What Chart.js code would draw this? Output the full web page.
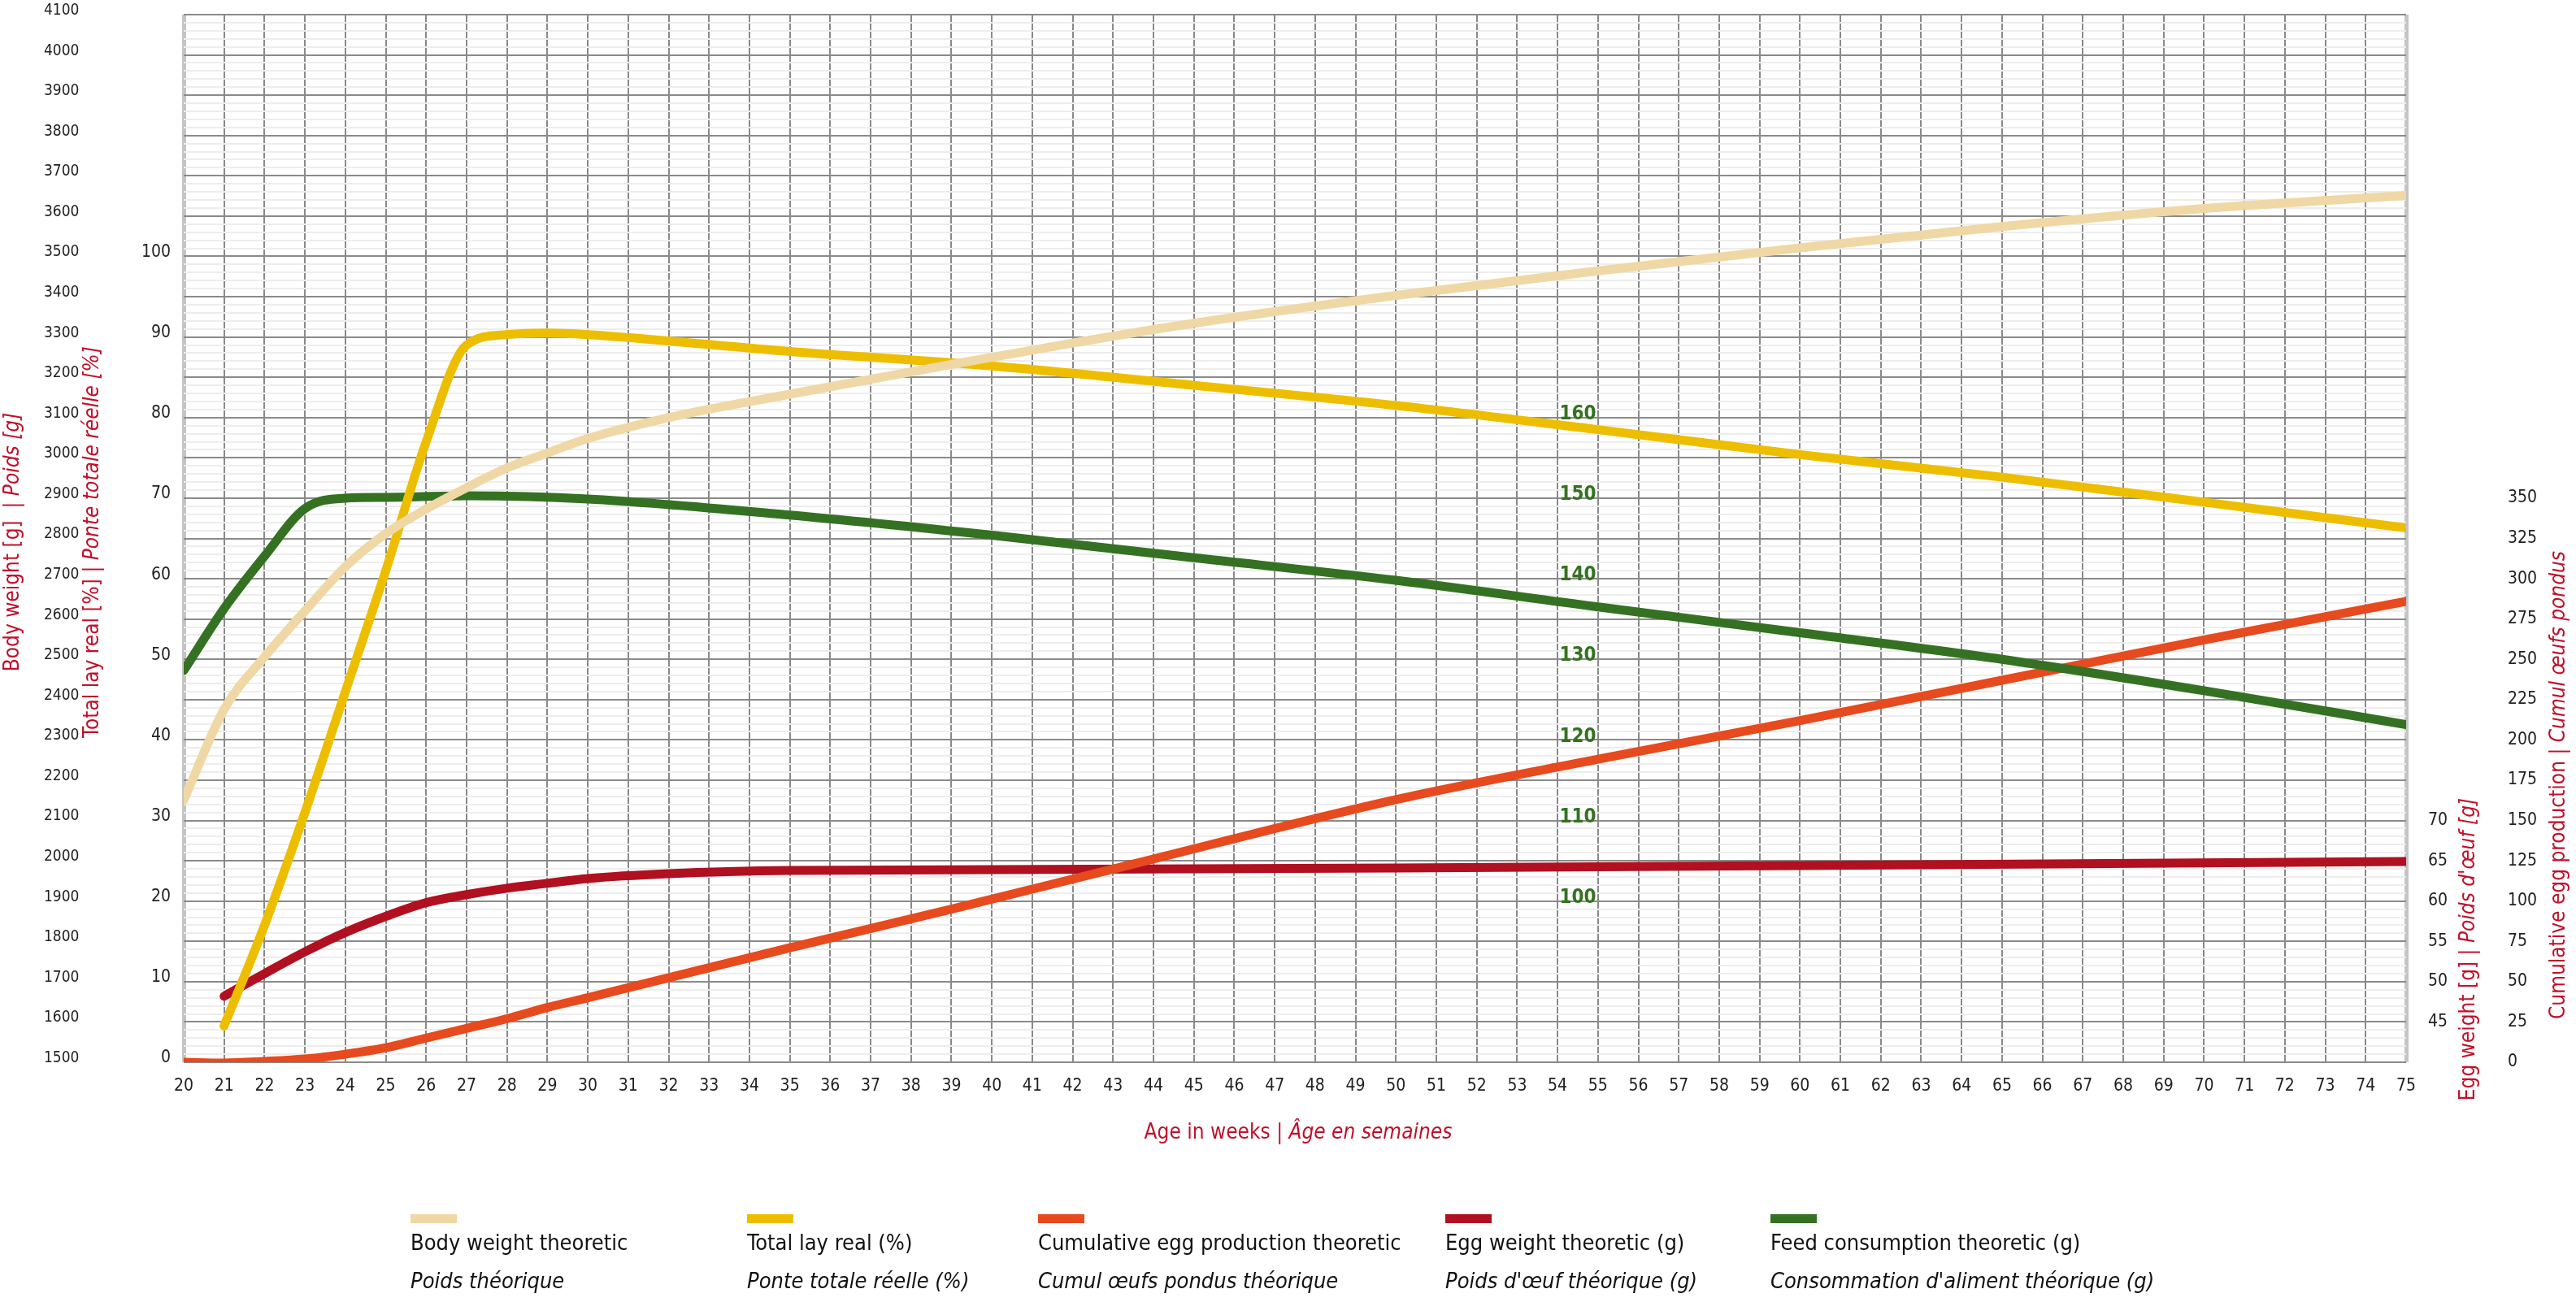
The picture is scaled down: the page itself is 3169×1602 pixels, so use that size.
<!DOCTYPE html>
<html>
<head>
<meta charset="utf-8">
<script src="https://cdn.jsdelivr.net/npm/chart.js@4.4.1/dist/chart.umd.min.js"></script>
<style>
  html, body { margin: 0; padding: 0; background: #fff; }
  #wrap { width: 3169px; height: 1602px; position: relative; }
</style>
</head>
<body>
<div id="wrap"><canvas id="chart"></canvas></div>
<script>
// ---- data ----
const bodyWeeks = [20, 21, 22, 23, 24, 25, 26, 27, 28, 29, 30, 32, 35, 39, 42, 45, 50, 55, 60, 65, 70, 75];
const bodyVals  = [2150, 2376, 2506, 2620, 2730, 2812, 2873, 2926, 2975, 3012, 3048, 3100, 3158, 3232, 3285, 3334, 3403, 3464, 3521, 3574, 3619, 3651];

const layWeeks = [21, 22, 23, 24, 25, 26, 27, 28, 29, 30, 35, 40, 45, 50, 55, 60, 65, 70, 75];
const layVals  = [4.5, 17, 31, 46, 61, 77, 89, 90.3, 90.5, 90.3, 88.2, 86.4, 84, 81.5, 78.5, 75.4, 72.6, 69.5, 66.3];

const cumWeeks = [20, 21, 22, 23, 24, 25, 26, 27, 28, 29, 30, 35, 39, 43.5, 50, 55, 60, 65, 70, 75];
const cumVals  = [0, -0.5, 0.5, 2, 5, 9, 15, 21, 27, 34, 40, 71, 95, 123, 163, 188, 212, 237, 262, 286];

const eggWeeks = [21, 22, 23, 24, 25, 26, 27, 28, 29, 30, 32, 35, 40, 50, 60, 75];
const eggVals  = [48.2, 51, 53.7, 56.1, 58.1, 59.8, 60.8, 61.6, 62.2, 62.8, 63.4, 63.8, 63.9, 64.1, 64.4, 64.9];

const feedWeeks = [20, 21, 22, 23, 24, 25, 27, 30, 35, 40, 45, 50, 55, 60, 65, 70, 75];
const feedVals  = [128.6, 136.3, 142.8, 148.7, 150, 150.1, 150.3, 149.9, 147.9, 145.4, 142.6, 139.8, 136.5, 133.3, 130, 126.1, 121.9];

const bodyTicks = [1500, 1600, 1700, 1800, 1900, 2000, 2100, 2200, 2300, 2400, 2500, 2600, 2700, 2800, 2900, 3000, 3100, 3200, 3300, 3400, 3500, 3600, 3700, 3800, 3900, 4000, 4100];
const layTicks  = [0, 10, 20, 30, 40, 50, 60, 70, 80, 90, 100];
const eggTicks  = [45, 50, 55, 60, 65, 70];
const cumTicks  = [0, 25, 50, 75, 100, 125, 150, 175, 200, 225, 250, 275, 300, 325, 350];
const feedTicks = [100, 110, 120, 130, 140, 150, 160];
const weekTicks = Array.from({ length: 56 }, (_, i) => 20 + i);

const legendItems = [
  { en: 'Body weight theoretic', fr: 'Poids théorique', color: '#efd8a5', x: 505 },
  { en: 'Total lay real (%)', fr: 'Ponte totale réelle (%)', color: '#edbe00', x: 919 },
  { en: 'Cumulative egg production theoretic', fr: 'Cumul œufs pondus théorique', color: '#e64a1e', x: 1277 },
  { en: 'Egg weight theoretic (g)', fr: 'Poids d\'œuf théorique (g)', color: '#b01020', x: 1778 },
  { en: 'Feed consumption theoretic (g)', fr: 'Consommation d\'aliment théorique (g)', color: '#357122', x: 2178 },
];

const FONT = '"Liberation Sans Narrow", "DejaVu Sans Condensed", sans-serif';
const RED = '#c0112b';

const pts = (xs, ys) => xs.map((x, i) => ({ x, y: ys[i] }));

function line(data, color, axis) {
  return {
    data, yAxisID: axis, borderColor: color, backgroundColor: color,
    borderWidth: 11, pointRadius: 0, borderCapStyle: 'round', borderJoinStyle: 'round',
    cubicInterpolationMode: 'monotone', fill: false,
  };
}

// draws "normal | italic" title, optionally rotated
function drawTitle(ctx, x, y, normal, italic, rotate) {
  ctx.save();
  ctx.translate(x, y);
  if (rotate) ctx.rotate(-Math.PI / 2);
  ctx.fillStyle = RED;
  ctx.textBaseline = 'middle';
  ctx.font = `26px ${FONT}`;
  const w1 = ctx.measureText(normal).width;
  ctx.font = `italic 26px ${FONT}`;
  const w2 = ctx.measureText(italic).width;
  let sx = -(w1 + w2) / 2;
  ctx.textAlign = 'left';
  ctx.font = `26px ${FONT}`;
  ctx.fillText(normal, sx, 0);
  ctx.font = `italic 26px ${FONT}`;
  ctx.fillText(italic, sx + w1, 0);
  ctx.restore();
}

const axisText = {
  id: 'axisText',
  afterDraw(chart) {
    const { ctx, scales } = chart;
    const s = scales;
    ctx.save();
    ctx.fillStyle = '#222';
    ctx.textBaseline = 'middle';

    ctx.font = `19px ${FONT}`;
    ctx.textAlign = 'left';
    bodyTicks.forEach(v => ctx.fillText(v, 54, s.y.getPixelForValue(v) - 5));
    ctx.font = `21px ${FONT}`;
    ctx.textAlign = 'right';
    layTicks.forEach(v => ctx.fillText(v, 210, s.lay.getPixelForValue(v) - 5));
    ctx.textAlign = 'left';
    eggTicks.forEach(v => ctx.fillText(v, 2987, s.egg.getPixelForValue(v)));
    cumTicks.forEach(v => ctx.fillText(v, 3085, s.cum.getPixelForValue(v)));

    ctx.textAlign = 'center';
    weekTicks.forEach(w => ctx.fillText(w, s.x.getPixelForValue(w), 1337));

    ctx.fillStyle = '#357122';
    ctx.font = `bold 24px ${FONT}`;
    feedTicks.forEach(v => ctx.fillText(v, s.x.getPixelForValue(54.5), s.feed.getPixelForValue(v) - 4));

    drawTitle(ctx, 16, 667, 'Body weight [g]  | ', 'Poids [g]', true);
    drawTitle(ctx, 114, 667, 'Total lay real [%] | ', 'Ponte totale réelle [%]', true);
    drawTitle(ctx, 3037, 1168, 'Egg weight [g] | ', 'Poids d\'œuf [g]', true);
    drawTitle(ctx, 3148, 966, 'Cumulative egg production | ', 'Cumul œufs pondus', true);
    drawTitle(ctx, 1597, 1394, 'Age in weeks | ', 'Âge en semaines', false);

    // legend
    legendItems.forEach(it => {
      ctx.fillStyle = it.color;
      ctx.fillRect(it.x, 1494, 57, 11);
      ctx.fillStyle = '#111';
      ctx.textAlign = 'left';
      ctx.font = `27px ${FONT}`;
      ctx.fillText(it.en, it.x, 1531);
      ctx.font = `italic 27px ${FONT}`;
      ctx.fillText(it.fr, it.x, 1578);
    });
    ctx.restore();
  }
};

new Chart(document.getElementById('chart'), {
  type: 'line',
  data: {
    datasets: [
      line(pts(bodyWeeks, bodyVals), '#efd8a5', 'y'),
      line(pts(layWeeks, layVals), '#edbe00', 'lay'),
      line(pts(feedWeeks, feedVals), '#357122', 'feed'),
      line(pts(cumWeeks, cumVals), '#e64a1e', 'cum'),
      line(pts(eggWeeks, eggVals), '#b01020', 'egg'),
    ]
  },
  options: {
    responsive: true, maintainAspectRatio: false, animation: false, devicePixelRatio: 1,
    layout: { padding: { left: 226, right: 209, top: 18, bottom: 295 } },
    plugins: { legend: { display: false }, tooltip: { enabled: false } },
    scales: {
      x: {
        type: 'linear', min: 20, max: 75,
        ticks: { display: false, stepSize: 1 },
        border: { display: false },
        grid: {
          drawTicks: false,
          color: c => (c.tick.value === 20 || c.tick.value === 75) ? '#c4c4c4' : '#8a8a8a',
          lineWidth: c => (c.tick.value === 20 || c.tick.value === 75) ? 5 : 2,
        }
      },
      y: {
        min: 1500, max: 4100,
        ticks: { display: false, stepSize: 20, maxTicksLimit: 200 },
        border: { display: false },
        grid: {
          drawTicks: false,
          color: c => (Math.round(c.tick.value) % 100 === 0) ? '#8a8a8a' : '#ededed',
          lineWidth: 2,
        }
      },
      lay:  { display: false, min: 0, max: 130 },
      feed: { display: false, min: 80, max: 210 },
      egg:  { display: false, min: 40, max: 170 },
      cum:  { display: false, min: 0, max: 650 },
    }
  },
  plugins: [axisText]
});
</script>
</body>
</html>
